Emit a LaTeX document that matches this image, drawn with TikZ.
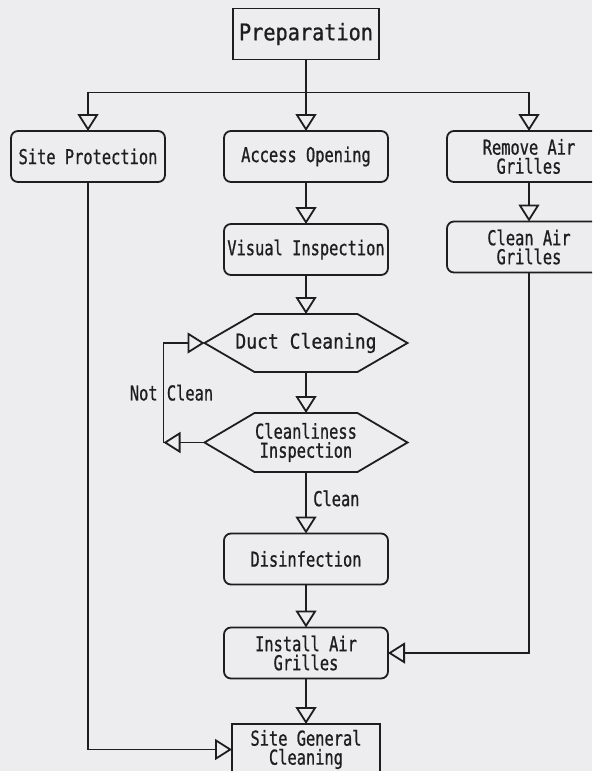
\documentclass[tikz,border=0pt]{standalone}
\usepackage{fontspec}
\newfontfamily\gothic[FakeStretch=0.75,FakeBold=0.8]{DejaVu Sans Mono}
\newfontfamily\gothicwide[FakeStretch=0.88,FakeBold=0.8]{DejaVu Sans Mono}
\usetikzlibrary{arrows.meta,positioning}
\definecolor{paper}{RGB}{237,237,239}
\definecolor{ink}{RGB}{30,30,30}
% hexagon drawn round a named node
\newcommand\hexround[1]{\draw (#1.west) -- ([xshift=50pt]#1.north west) -- ([xshift=-50pt]#1.north east) -- (#1.east) -- ([xshift=-50pt]#1.south east) -- ([xshift=50pt]#1.south west) -- cycle;}
\begin{document}
\begin{tikzpicture}[>={Triangle[open,length=17pt,width=21pt]},line width=1.8pt,color=ink,node distance=40pt,
  lbl/.style={font=\gothic\fontsize{20.5}{19}\selectfont},
  box/.style={lbl,draw,rounded corners=7pt,align=center,minimum width=164pt,minimum height=51pt,inner xsep=3pt,outer sep=0pt},
  plain/.style={box,sharp corners},
  hexa/.style={lbl,align=center,minimum width=203pt,minimum height=58pt,inner sep=0pt,outer sep=0pt}]
\useasboundingbox (0,0) rectangle (592pt,-771pt);
\clip (0,0) rectangle (592pt,-771pt);
\fill[paper] (0,0) rectangle (592pt,-771pt);
\node[plain,font=\gothicwide\fontsize{23}{23}\selectfont,minimum width=146pt] (prep) at (306pt,-34pt) {Preparation};
\node[box,below=71.5pt of prep] (ao) {Access Opening};
\node[box,minimum width=154pt,left=59pt of ao] (sp) {Site Protection};
\node[box,right=59pt of ao] (rag) {Remove Air\\Grilles};
\node[box,below=39.5pt of rag] (cag) {Clean Air\\Grilles};
\node[box,below=42pt of ao] (vi) {Visual Inspection};
\node[hexa,font=\gothicwide\fontsize{20.5}{19}\selectfont,below=39pt of vi] (dc) {Duct Cleaning};
\node[hexa,minimum height=59pt,below=41pt of dc] (ci) {Cleanliness\\Inspection};
\node[box,below=61.5pt of ci] (dis) {Disinfection};
\node[box,below=43pt of dis] (iag) {Install Air\\Grilles};
\node[plain,minimum width=148pt,below=45.5pt of iag] (sgc) {Site General\\Cleaning};
\foreach \h in {dc,ci}{\hexround{\h}}
\draw (prep.south) -- ++(0,-33pt) coordinate (split);
\foreach \t in {sp,ao,rag}{\draw[->] (split) -| (\t.north);}
\foreach \a/\b in {ao/vi,vi/dc,dc/ci,dis/iag,iag/sgc,rag/cag}{\draw[->] (\a)--(\b);}
\draw[->] (ci) -- node[lbl,right,pos=0.43,xshift=3pt] {Clean} (dis);
\draw[->] (ci.west) -- ++(-41pt,0) coordinate (loop);
\draw[->] (loop) |- node[lbl,pos=0.25,xshift=8pt] {Not Clean} (dc.west);
\draw[->] (sp.south) |- (sgc.west);
\draw[->] (cag.south) |- (iag.east);
\end{tikzpicture}
\end{document}
